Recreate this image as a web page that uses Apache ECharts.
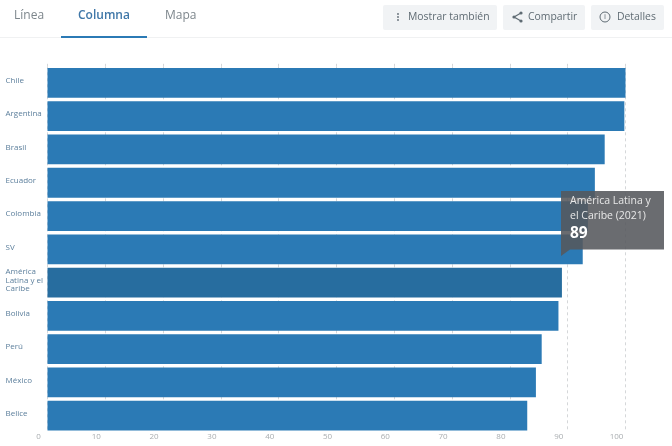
<!DOCTYPE html>
<html><head><meta charset="utf-8">
<style>html,body{margin:0;padding:0;background:#fff}#c{width:672px;height:446px}</style>
<script src="https://cdn.jsdelivr.net/npm/echarts@6/dist/echarts.min.js"></script>
</head><body><div id="c"></div>
<script>
const categories = ['Chile','Argentina','Brasil','Ecuador','Colombia','SV','América Latina y el Caribe','Bolivia','Perú','México','Belice'];
const values = [100,99.8,96.4,94.7,93.5,92.6,89,88.4,85.5,84.5,83];
const highlighted = 'América Latina y el Caribe';
const tabs = ['Línea','Columna','Mapa'];
const tipTitle = ['América Latina y','el Caribe (2021)'];
const tipValue = '89';
const FONT = '"Open Sans", sans-serif';
const chart = echarts.init(document.getElementById('c'), null, {renderer:'canvas'});
function btn(x,w,label,tx){
  return [{type:'rect',shape:{x:x,y:5,width:w,height:25,r:2},style:{fill:'#f1f3f5'},z:5},
          {type:'text',style:{x:tx,y:17,text:label,font:'10.4px '+FONT,fill:'#5f6b73',verticalAlign:'middle',align:'left'},z:6}];
}
const g = [
  {type:'rect',shape:{x:0,y:37,width:672,height:1},style:{fill:'#f0f1f2'},z:1},
  {type:'text',style:{x:14,y:16,text:tabs[0],font:'12px '+FONT,fill:'#7d868c',verticalAlign:'middle'},z:6},
  {type:'text',style:{x:78,y:16,text:tabs[1],font:'600 12px '+FONT,fill:'#3f77a8',verticalAlign:'middle'},z:6},
  {type:'text',style:{x:165,y:16,text:tabs[2],font:'12px '+FONT,fill:'#7d868c',verticalAlign:'middle'},z:6},
  {type:'rect',shape:{x:61,y:36,width:86,height:2},style:{fill:'#2b7ab5'},z:6},
  ...btn(383,114,'Mostrar también',408),
  ...btn(503,82,'Compartir',528),
  ...btn(591,73,'Detalles',617),
  {type:'circle',shape:{cx:398,cy:14,r:0.9},style:{fill:'#5f6b73'},z:6},
  {type:'circle',shape:{cx:398,cy:17,r:0.9},style:{fill:'#5f6b73'},z:6},
  {type:'circle',shape:{cx:398,cy:20,r:0.9},style:{fill:'#5f6b73'},z:6},
  {type:'polyline',shape:{points:[[521,13],[514,17],[521,21]]},style:{stroke:'#5f6b73',fill:null,lineWidth:1.2},z:6},
  {type:'circle',shape:{cx:514,cy:17,r:1.6},style:{fill:'#5f6b73'},z:6},
  {type:'circle',shape:{cx:521,cy:13,r:1.6},style:{fill:'#5f6b73'},z:6},
  {type:'circle',shape:{cx:521,cy:21,r:1.6},style:{fill:'#5f6b73'},z:6},
  {type:'circle',shape:{cx:605,cy:17,r:5},style:{stroke:'#5f6b73',fill:null,lineWidth:1},z:6},
  {type:'text',style:{x:605,y:17,text:'i',font:'8px '+FONT,fill:'#5f6b73',align:'center',verticalAlign:'middle'},z:6},
  {type:'polygon',shape:{points:[[561,191],[664,191],[664,249.5],[570,249.5],[561,256]]},style:{fill:'rgba(85,88,92,0.88)'},z:20},
  {type:'text',style:{x:570,y:201.5,text:tipTitle[0],font:'10.5px '+FONT,fill:'#e8e8e8',verticalAlign:'middle'},z:21},
  {type:'text',style:{x:570,y:216,text:tipTitle[1],font:'10.5px '+FONT,fill:'#e8e8e8',verticalAlign:'middle'},z:21},
  {type:'text',style:{x:570,y:234,text:tipValue,font:'700 15.5px '+FONT,fill:'#ffffff',verticalAlign:'middle'},z:21}
];
chart.setOption({
  animation:false,
  backgroundColor:'#fff',
  grid:[{left:47.5,width:578,top:66.3,height:366,containLabel:false},
        {left:47.5,width:578,top:64.3,height:366,containLabel:false}],
  xAxis:[{type:'value',min:0,max:100,interval:10,
    axisLine:{show:false},axisTick:{show:false},
    axisLabel:{color:'#a9adb0',fontSize:8,fontFamily:FONT,margin:0,align:'center',padding:[0,18,0,0]},
    splitLine:{show:true,lineStyle:{color:'#d5d7d9',type:[3,3],width:1}}},
   {type:'value',position:'top',min:0,max:100,interval:10,
    axisLine:{show:false},axisLabel:{show:false},splitLine:{show:false},
    axisTick:{show:true,length:2.5,lineStyle:{color:'#d5d7d9'}}},
   {type:'value',gridIndex:1,show:false,min:0,max:100}],
  yAxis:[{type:'category',data:categories,inverse:true,
    axisLine:{show:false},axisTick:{show:false},axisLabel:{show:false}},
   {type:'category',gridIndex:1,data:categories,inverse:true,
    axisLine:{show:false},axisTick:{show:false},
    axisLabel:{color:'#5c7f9c',fontSize:8,fontFamily:FONT,align:'left',margin:42,width:40,overflow:'break',lineHeight:8.6}}],
  series:[{type:'bar',barCategoryGap:'10.5%',z:3,xAxisIndex:0,yAxisIndex:0,
    data:values.map((v,i)=>({value:v,itemStyle:{color:categories[i]===highlighted?'#276d9f':'#2b7ab5'}})),
    silent:true}],
  graphic:g
});
</script></body></html>
